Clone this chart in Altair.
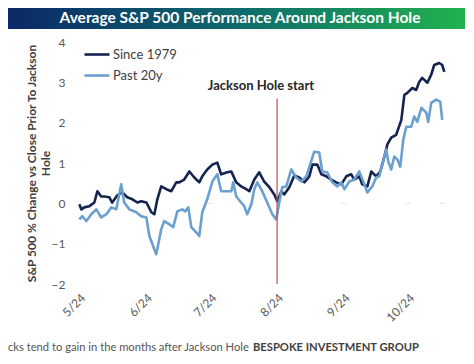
import altair as alt
import pandas as pd

# ---------------- data ----------------
series_names = ["Since 1979", "Past 20y"]

since_days = [0, 1, 2.3, 4.7, 7, 8.4, 10.2, 11.6, 14, 15.3, 17.7, 20, 22.3, 24.7, 27, 28.8,
              31.2, 33.5, 34.9, 36.3, 38.1, 40.5, 42.8, 45.1, 46.5, 48.8, 51.2, 53.5, 55.8,
              57.2, 59.5, 61.9, 64.2, 66, 68.8, 70.7, 73, 75.3, 77.7, 79.1, 81.4, 83.7, 86,
              88.4, 90.7, 92.1, 94, 95.3, 97.7, 100, 102.3, 104.7, 107, 108.4, 110.7, 112.6,
              114.9, 117.2, 119.5, 121.9, 124.2, 126.5, 127.9, 130.2, 131.6, 134, 135.8,
              138.1, 140, 141.9, 143.3, 145.1, 147.4, 149.8, 151.2, 152.6, 154.9, 156.7,
              158.1, 159.5, 161.9, 163.7, 165.1, 167.4, 168.8, 169.8]
since_vals = [-0.02, -0.15, -0.10, -0.07, 0.02, 0.30, 0.17, 0.17, 0.15, 0.02, 0.20, 0.27, 0.15,
              0.10, 0.02, 0.05, 0.02, -0.22, -0.27, 0.10, 0.42, 0.35, 0.30, 0.52, 0.52, 0.59,
              0.79, 0.64, 0.52, 0.67, 0.84, 0.96, 1.01, 0.72, 0.77, 0.79, 0.52, 0.42, 0.35,
              0.30, 0.59, 0.77, 0.54, 0.40, 0.22, 0.05, 0.30, 0.22, 0.40, 0.69, 0.64, 0.52,
              0.67, 0.96, 0.96, 0.72, 0.67, 0.59, 0.52, 0.47, 0.67, 0.72, 0.59, 0.67, 0.47,
              0.42, 0.79, 0.67, 0.79, 1.16, 1.46, 1.63, 1.70, 2.07, 2.69, 2.74, 2.86, 2.81,
              3.01, 3.11, 2.99, 3.19, 3.43, 3.48, 3.43, 3.26]

past_days = [0, 1.4, 3.3, 5.6, 7.9, 10.2, 12.6, 14.9, 17.2, 19.5, 20.9, 23.3, 26.5, 28.8, 31.2,
             32.6, 34.9, 35.8, 38.1, 39.5, 41.9, 43.7, 45.6, 47.9, 49.3, 50.7, 52.1, 54.4,
             55.8, 57.2, 59.5, 61.9, 64.2, 66, 68.8, 70.7, 71.6, 73, 75.3, 76.7, 78.1, 80,
             81.4, 82.8, 85.1, 87.4, 89.8, 91.6, 93, 94.4, 96.3, 98.6, 100.9, 103.3, 105.6,
             109.3, 111.6, 113, 115.3, 117.7, 120, 121.9, 123.3, 125.6, 127.9, 130.2, 132.6,
             134, 136.3, 138.1, 139.5, 140.9, 142.8, 143.7, 145.1, 146.5, 147.9, 149.3,
             150.7, 152.1, 154.4, 155.8, 157.2, 159.1, 161.4, 162.3, 163.7, 166, 167.9, 168.8]
past_vals = [-0.40, -0.32, -0.44, -0.27, -0.15, -0.35, -0.27, -0.10, -0.15, 0.47, 0.02, -0.15,
             -0.22, -0.32, -0.35, -0.81, -1.14, -1.26, -0.64, -0.44, -0.52, -0.59, -0.20,
             -0.15, -0.20, -0.10, -0.59, -0.72, -0.81, -0.22, 0.10, 0.54, 0.72, 0.30, 0.30,
             0.30, 0.52, 0.17, 0.02, -0.07, -0.27, -0.02, 0.35, 0.52, 0.30, 0.02, -0.27,
             -0.40, 0.02, 0.40, 0.42, 0.84, 0.64, 0.54, 0.67, 1.28, 1.26, 0.79, 0.77, 0.52,
             0.42, 0.52, 0.35, 0.54, 0.59, 0.79, 0.47, 0.27, 0.42, 0.64, 0.67, 0.96, 1.33,
             1.04, 0.84, 1.16, 1.09, 0.91, 1.58, 1.90, 1.90, 2.15, 2.02, 2.37, 2.25, 2.02,
             2.49, 2.57, 2.52, 2.07]

tick_months = [5, 6, 7, 8, 9, 10]   # x-axis labels m/24
y_ticks = [-2, -1, 0, 1, 2, 3, 4]
event_month = 8                      # Jackson Hole start, 8/24
event_top = 2.6
zero_end_day = 168.8

# ---------------- build table ----------------
origin = pd.Timestamp("2023-05-24")


def to_dates(days):
    return [(origin + pd.Timedelta(days=d)).strftime("%Y-%m-%dT%H:%M:%S") for d in days]


df = pd.DataFrame({
    "date": to_dates(since_days) + to_dates(past_days),
    "value": since_vals + past_vals,
    "series": [series_names[0]] * len(since_days) + [series_names[1]] * len(past_days),
})


def dt(month, day):
    return alt.DateTime(year=2023, month=month, date=day)


FONT = "Lato"
GREY = "#595959"
DARK = "#14244f"
LIGHT = "#6b9fd0"

x_scale = alt.Scale(domain=[dt(5, 22), alt.DateTime(year=2023, month=11, date=11, hours=12)])
y_scale = alt.Scale(domain=[-2, 4], nice=False, zero=False)

lines = alt.Chart(df).mark_line(strokeWidth=2.6, strokeJoin="round").encode(
    x=alt.X("date:T", scale=x_scale, title=None,
            axis=alt.Axis(values=[dt(m, 24) for m in tick_months], format="%-m/%d",
                          labelAngle=-45, labelPadding=8, domain=False, ticks=False, grid=False,
                          labelFont=FONT, labelFontSize=12, labelColor=GREY)),
    y=alt.Y("value:Q", scale=y_scale,
            title=["S&P 500 % Change vs Close Prior To Jackson", "Hole"],
            axis=alt.Axis(values=y_ticks, domain=False, ticks=False, grid=False,
                          labelPadding=10, labelFont=FONT, labelFontSize=12, labelColor=GREY,
                          titleFont=FONT, titleFontSize=12, titleFontWeight="bold",
                          titleColor="#404040", titleX=-37, titleY=121, titleAngle=-90,
                          titleAlign="center", titleBaseline="bottom", titleLineHeight=14)),
    color=alt.Color("series:N", scale=alt.Scale(domain=series_names, range=[DARK, LIGHT]),
                    legend=alt.Legend(title=None, orient="none", legendX=8, legendY=-1.5,
                                      symbolType="stroke", symbolSize=625,
                                      symbolStrokeWidth=2.6, rowPadding=0, padding=0,
                                      labelFont=FONT, labelFontSize=13, labelColor="#404040",
                                      labelOffset=2)),
)

one = pd.DataFrame({"k": [0]})

zero_line = alt.Chart(one).mark_rule(color="#d9d9d9", strokeWidth=1).encode(
    x=alt.X(datum=dt(5, 24), type="temporal"),
    x2=alt.X2(datum=(origin + pd.Timedelta(days=zero_end_day)).strftime("%Y-%m-%dT%H:%M:%S")),
    y=alt.Y(datum=0),
)

ticks_df = pd.DataFrame({"date": [f"2023-{m:02d}-24T00:00:00" for m in tick_months[1:]] +
                         [(origin + pd.Timedelta(days=zero_end_day)).strftime("%Y-%m-%dT%H:%M:%S")]})
zero_ticks = alt.Chart(ticks_df).mark_tick(color="#d9d9d9", thickness=1, size=5).encode(
    x="date:T", y=alt.Y(datum=0),
)

event_line = alt.Chart(one).mark_rule(color="#c0504d", strokeWidth=1.2).encode(
    x=alt.X(datum=dt(event_month, 24), type="temporal"),
    y=alt.Y(datum=event_top),
    y2=alt.Y2(datum=-2),
)

event_text = alt.Chart(one).mark_text(text="Jackson Hole start", font=FONT, fontSize=13,
                                      fontWeight="bold", color="#262626",
                                      align="center", baseline="middle").encode(
    x=alt.value(186), y=alt.value(44))

banner = alt.Chart(one).mark_rect(
    fill=alt.LinearGradient(gradient="linear", x1=0, x2=1, y1=0, y2=0,
                            stops=[alt.GradientStop(offset=0, color="#0b2868"),
                                   alt.GradientStop(offset=0.5, color="#0e6a6c"),
                                   alt.GradientStop(offset=1, color="#22b24e")])
).encode(x=alt.value(-67), x2=alt.value(392), y=alt.value(-34), y2=alt.value(-13))

title_text = alt.Chart(one).mark_text(text="Average S&P 500 Performance Around Jackson Hole",
                                      font=FONT, fontSize=15.5, fontWeight="bold",
                                      color="white", align="center", baseline="middle").encode(
    x=alt.value(165), y=alt.value(-24))

foot1 = alt.Chart(one).mark_text(text="cks tend to gain in the months after Jackson Hole",
                                 font=FONT, fontSize=11.2, color="#555555",
                                 align="left", baseline="middle").encode(
    x=alt.value(-67), y=alt.value(306))
foot2 = alt.Chart(one).mark_text(text="BESPOKE INVESTMENT GROUP",
                                 font=FONT, fontSize=11.2, fontWeight="bold", color="#404040",
                                 align="left", baseline="middle").encode(
    x=alt.value(178), y=alt.value(306))

chart = alt.layer(
    banner, title_text, zero_line, zero_ticks, lines, event_line, event_text, foot1, foot2
).properties(
    width=373, height=242,
    autosize=alt.AutoSizeParams(type="none"),
    padding={"left": 67, "top": 34, "right": 17, "bottom": 71},
    background="white",
).configure_view(stroke=None)

chart.save("out.html", embed_options={"renderer": "svg", "actions": False})
